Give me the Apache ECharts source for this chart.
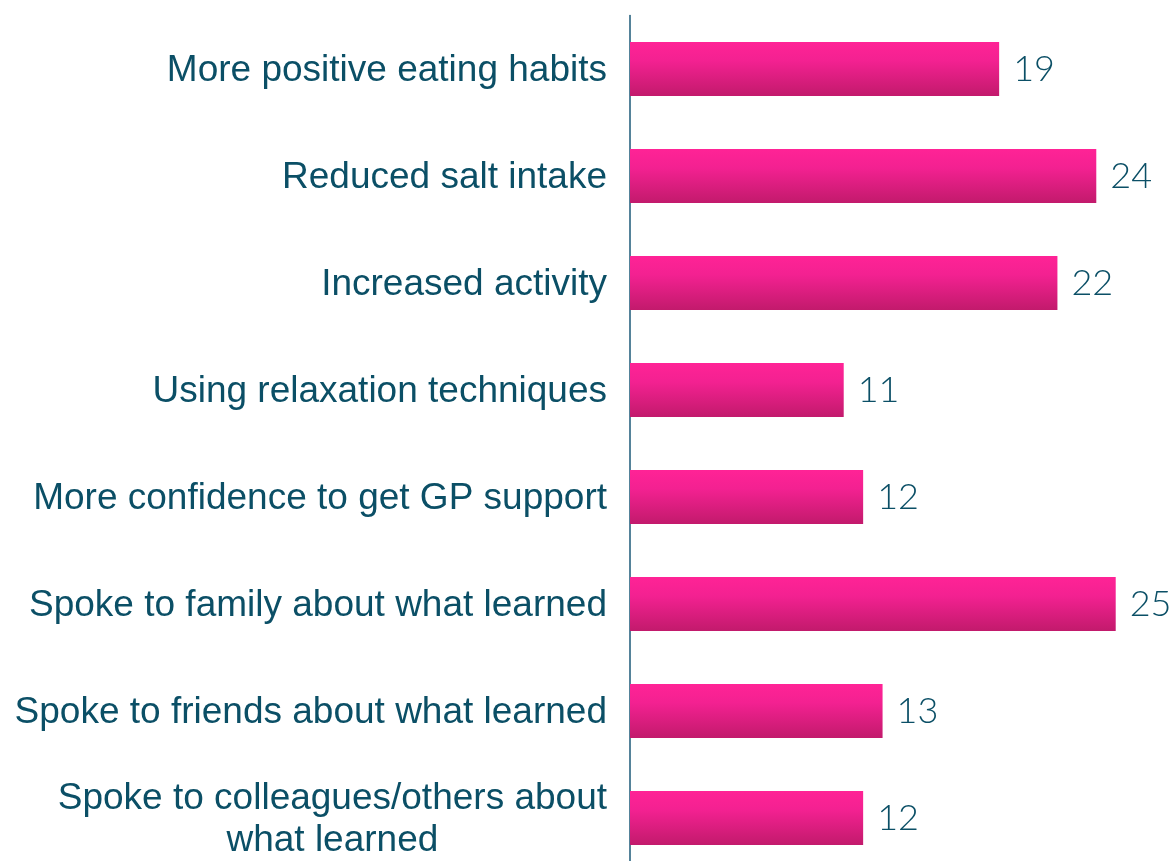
<!DOCTYPE html>
<html>
<head>
<meta charset="utf-8">
<style>
  html, body { margin: 0; padding: 0; background: #ffffff; }
  #chart { width: 1176px; height: 861px; }
</style>
<script src="https://cdn.jsdelivr.net/npm/echarts@6/dist/echarts.min.js"></script>
</head>
<body>
<div id="chart"></div>
<script>
// Reported changes after the programme (number of respondents)
const categories = [
  'More positive eating habits',
  'Reduced salt intake',
  'Increased activity',
  'Using relaxation techniques',
  'More confidence to get GP support',
  'Spoke to family about what learned',
  'Spoke to friends about what learned',
  'Spoke to colleagues/others about\nwhat learned'
];
const values = [19, 24, 22, 11, 12, 25, 13, 12];

const textColor = '#0b4f66';

const chart = echarts.init(document.getElementById('chart'), null, { renderer: 'canvas' });
chart.setOption({
  animation: false,
  grid: {
    left: 630, width: 544, top: 15.5, height: 856,
    containLabel: false,
    outerBoundsMode: 'none'
  },
  xAxis: {
    type: 'value',
    min: 0,
    max: 28,
    show: false
  },
  yAxis: {
    type: 'category',
    inverse: true,
    data: categories,
    axisLine: { show: true, lineStyle: { color: '#1d5a78', width: 1.5 } },
    axisTick: { show: false },
    axisLabel: {
      color: textColor,
      fontFamily: 'Liberation Sans, Arial, sans-serif',
      fontSize: 37,
      lineHeight: 42,
      margin: 23,
      align: 'right',
      // multi-line labels: lines centred on each other, block right-aligned
      formatter: function (v) {
        return v.split('\n').map(function (s) { return '{c|' + s + '}'; }).join('\n');
      },
      rich: {
        c: {
          align: 'center',
          color: textColor,
          fontFamily: 'Liberation Sans, Arial, sans-serif',
          fontSize: 37,
          lineHeight: 42,
          padding: [4, 0, 0, 0]
        }
      }
    }
  },
  series: [{
    type: 'bar',
    data: values,
    barWidth: 54,
    itemStyle: {
      color: new echarts.graphic.LinearGradient(0, 0, 0, 1, [
        { offset: 0, color: '#ff2396' },
        { offset: 0.35, color: '#f32191' },
        { offset: 1, color: '#c21a6c' }
      ])
    },
    label: {
      show: true,
      position: 'right',
      distance: 14,
      color: textColor,
      fontFamily: 'Lato, Roboto, sans-serif',
      fontWeight: 300,
      fontSize: 36,
      padding: [4, 0, 0, 0]
    }
  }]
});
</script>
</body>
</html>
